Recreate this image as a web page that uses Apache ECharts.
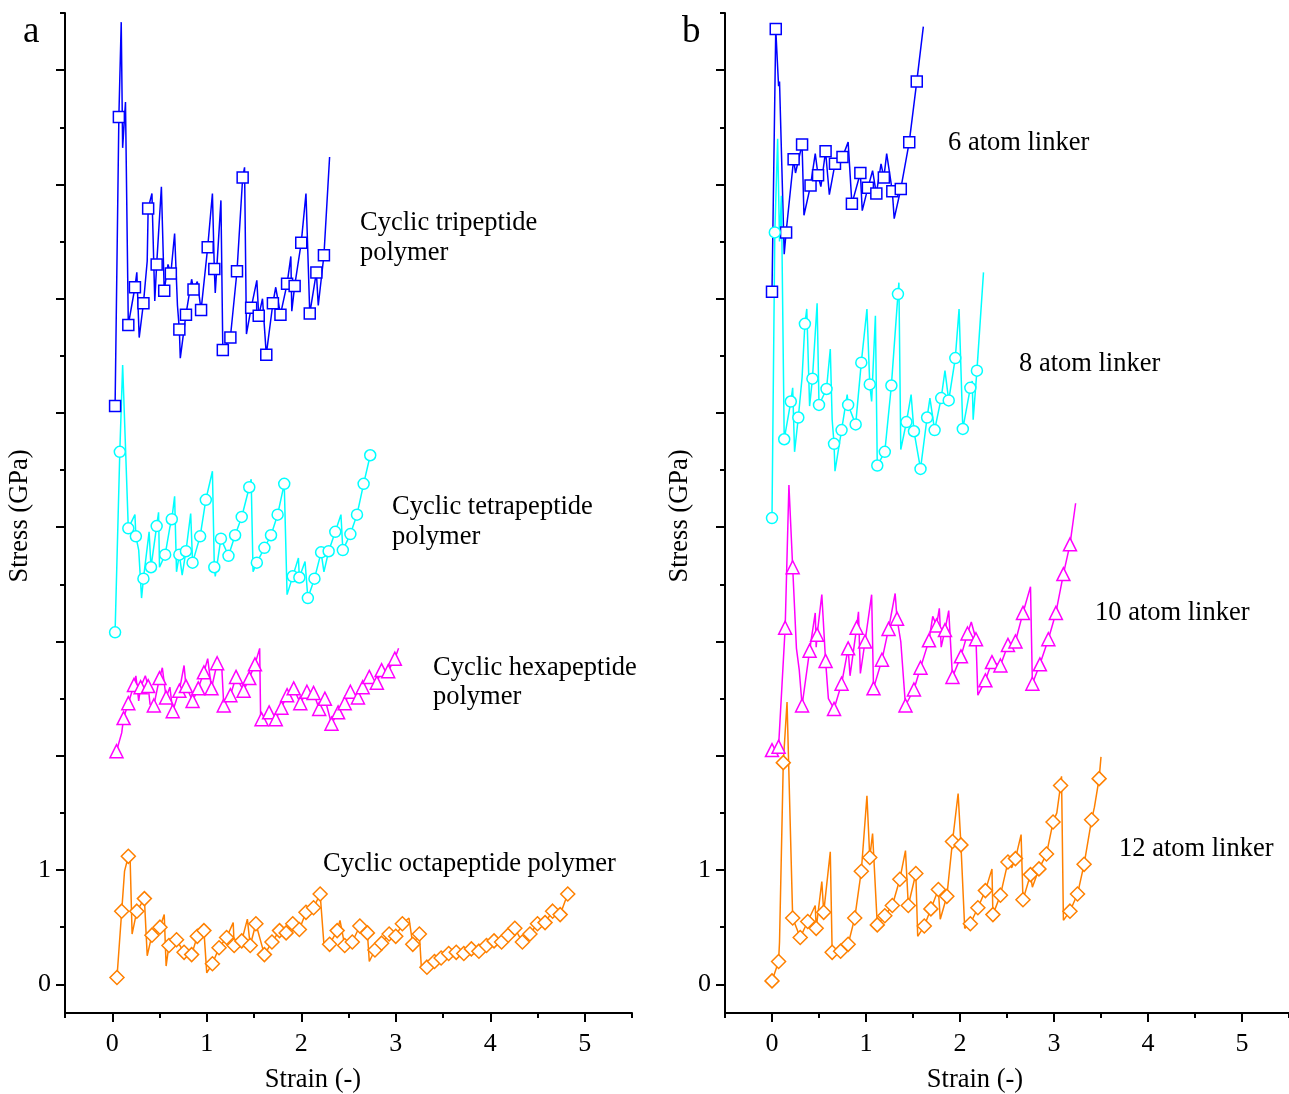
<!DOCTYPE html>
<html>
<head>
<meta charset="utf-8">
<script src="https://cdn.jsdelivr.net/npm/echarts@6/dist/echarts.min.js"></script>
<style>
  html, body { margin: 0; background: #fff; }
  #chart { width: 1289px; height: 1094px; }
</style>
</head>
<body>
<div id="chart"></div>
<script>
// each point: [strain, stress (offset), 1 = draw marker]
const triPoly = [[0.03,5.06,1],[0.07,7.59,1],[0.095,8.42,0],[0.11,7.32,0],[0.14,7.72,0],[0.17,5.77,1],[0.24,6.10,1],[0.26,6.23,0],[0.285,5.66,0],[0.33,5.96,1],[0.37,6.33,0],[0.38,6.79,1],[0.42,6.92,0],[0.45,5.98,0],[0.47,6.30,1],[0.52,6.98,0],[0.55,6.07,1],[0.59,6.30,0],[0.62,6.22,1],[0.66,6.57,0],[0.69,5.94,0],[0.71,5.73,1],[0.72,5.48,0],[0.78,5.86,1],[0.84,6.17,0],[0.86,6.08,1],[0.90,6.15,0],[0.94,5.90,1],[1.01,6.45,1],[1.06,6.92,0],[1.08,6.26,1],[1.09,6.05,0],[1.15,6.86,0],[1.17,5.55,1],[1.25,5.66,1],[1.32,6.24,1],[1.38,7.06,1],[1.40,7.15,0],[1.42,5.69,0],[1.47,5.92,1],[1.53,6.16,0],[1.55,5.85,1],[1.59,6.00,0],[1.63,5.51,1],[1.70,5.96,1],[1.73,6.10,0],[1.78,5.86,1],[1.85,6.13,1],[1.89,6.37,0],[1.90,5.89,0],[1.93,6.11,1],[2.00,6.49,1],[2.05,6.92,0],[2.09,5.87,1],[2.16,6.23,1],[2.18,5.94,0],[2.24,6.38,1],[2.30,7.24,0]]
const tetraPoly = [[0.03,3.08,1],[0.08,4.66,1],[0.11,5.42,0],[0.17,3.99,1],[0.24,4.11,0],[0.25,3.92,1],[0.28,3.80,0],[0.31,3.38,0],[0.33,3.55,1],[0.39,3.96,0],[0.41,3.65,1],[0.47,4.01,1],[0.49,4.13,0],[0.50,3.65,0],[0.56,3.76,1],[0.61,4.00,0],[0.63,4.07,1],[0.66,4.27,0],[0.68,3.61,0],[0.71,3.76,1],[0.74,3.58,0],[0.78,3.79,1],[0.83,4.12,0],[0.85,3.69,1],[0.93,3.92,1],[0.99,4.24,1],[1.06,4.49,0],[1.08,3.65,1],[1.09,3.57,0],[1.15,3.90,1],[1.23,3.75,1],[1.30,3.93,1],[1.37,4.09,1],[1.45,4.35,1],[1.47,4.42,0],[1.49,3.61,0],[1.53,3.69,1],[1.61,3.82,1],[1.68,3.93,1],[1.75,4.11,1],[1.82,4.38,1],[1.85,3.41,0],[1.91,3.57,1],[1.97,3.73,0],[1.98,3.56,1],[2.04,3.70,0],[2.07,3.38,1],[2.14,3.55,1],[2.21,3.78,1],[2.24,3.61,0],[2.29,3.79,1],[2.36,3.96,1],[2.42,4.11,0],[2.44,3.80,1],[2.52,3.94,1],[2.59,4.11,1],[2.66,4.38,1],[2.73,4.63,1]]
const hexaPoly = [[0.045,2.04,1],[0.10,2.20,0],[0.12,2.33,1],[0.17,2.46,1],[0.23,2.62,1],[0.25,2.70,0],[0.28,2.48,0],[0.30,2.60,1],[0.35,2.70,0],[0.38,2.61,1],[0.40,2.45,0],[0.44,2.44,1],[0.50,2.68,1],[0.53,2.77,0],[0.57,2.51,1],[0.61,2.60,0],[0.64,2.39,1],[0.71,2.57,1],[0.76,2.79,0],[0.78,2.61,1],[0.85,2.48,1],[0.91,2.59,1],[0.97,2.73,1],[1.01,2.85,0],[1.05,2.59,1],[1.11,2.81,1],[1.16,2.76,0],[1.18,2.44,1],[1.25,2.53,1],[1.31,2.69,1],[1.39,2.57,1],[1.45,2.68,1],[1.51,2.80,1],[1.56,2.94,0],[1.57,2.34,0],[1.58,2.32,1],[1.66,2.38,1],[1.73,2.32,1],[1.79,2.42,1],[1.85,2.53,1],[1.92,2.59,1],[1.99,2.46,1],[2.06,2.56,1],[2.13,2.55,1],[2.19,2.41,1],[2.25,2.50,1],[2.32,2.28,1],[2.39,2.38,1],[2.46,2.46,1],[2.52,2.56,1],[2.60,2.51,1],[2.65,2.60,1],[2.72,2.69,1],[2.80,2.64,1],[2.85,2.75,1],[2.92,2.74,1],[2.99,2.85,1],[3.03,2.94,0]]
const octaPoly = [[0.05,0.06,1],[0.10,0.64,1],[0.13,0.99,0],[0.17,1.12,1],[0.19,1.07,0],[0.21,0.44,0],[0.26,0.64,1],[0.34,0.75,1],[0.37,0.25,0],[0.42,0.43,1],[0.505,0.50,1],[0.55,0.61,0],[0.57,0.16,0],[0.60,0.34,1],[0.68,0.39,1],[0.76,0.28,1],[0.84,0.26,1],[0.90,0.42,1],[0.97,0.47,1],[1.00,0.10,0],[1.06,0.18,1],[1.13,0.32,1],[1.21,0.41,1],[1.28,0.54,0],[1.29,0.34,1],[1.37,0.38,1],[1.43,0.57,0],[1.46,0.34,1],[1.52,0.53,1],[1.61,0.26,1],[1.69,0.37,1],[1.77,0.47,1],[1.84,0.45,1],[1.91,0.53,1],[1.98,0.48,1],[2.05,0.63,1],[2.13,0.67,1],[2.20,0.79,1],[2.24,0.35,0],[2.30,0.35,1],[2.38,0.47,1],[2.41,0.56,0],[2.46,0.34,1],[2.54,0.37,1],[2.62,0.51,1],[2.70,0.45,1],[2.72,0.20,0],[2.78,0.30,1],[2.85,0.36,1],[2.93,0.44,1],[3.00,0.42,1],[3.07,0.53,1],[3.14,0.58,0],[3.18,0.35,1],[3.25,0.44,1],[3.27,0.16,0],[3.33,0.15,1],[3.41,0.20,1],[3.48,0.23,1],[3.56,0.27,1],[3.64,0.28,1],[3.72,0.27,1],[3.80,0.31,1],[3.88,0.29,1],[3.96,0.34,1],[4.04,0.38,1],[4.12,0.37,1],[4.19,0.43,1],[4.26,0.49,1],[4.34,0.37,1],[4.42,0.44,1],[4.50,0.53,1],[4.58,0.54,1],[4.66,0.64,1],[4.74,0.61,1],[4.82,0.79,1]]

const linker6 = [[0.00,6.06,1],[0.04,8.36,1],[0.07,7.86,0],[0.08,7.90,0],[0.13,6.39,0],[0.15,6.58,1],[0.23,7.22,1],[0.25,7.10,0],[0.32,7.35,1],[0.34,6.73,0],[0.41,6.99,1],[0.46,7.27,0],[0.49,7.08,1],[0.52,6.98,0],[0.57,7.29,1],[0.61,6.91,0],[0.67,7.18,1],[0.71,7.15,0],[0.75,7.24,1],[0.81,7.37,0],[0.85,6.83,1],[0.94,7.10,1],[0.96,6.77,0],[1.02,6.97,1],[1.07,7.12,0],[1.11,6.92,1],[1.16,7.18,0],[1.19,7.06,1],[1.22,7.27,0],[1.28,6.94,1],[1.30,6.70,0],[1.37,6.96,1],[1.46,7.37,1],[1.54,7.90,1],[1.61,8.38,0]]
const linker8 = [[0.00,4.08,1],[0.03,6.58,1],[0.06,7.40,0],[0.08,6.50,0],[0.10,6.90,0],[0.13,4.77,1],[0.20,5.10,1],[0.22,5.22,0],[0.24,4.66,0],[0.28,4.96,1],[0.32,5.31,0],[0.35,5.78,1],[0.37,5.91,0],[0.40,5.06,0],[0.43,5.30,1],[0.48,5.96,0],[0.50,5.07,1],[0.58,5.21,1],[0.62,5.56,0],[0.64,4.94,0],[0.66,4.73,1],[0.67,4.49,0],[0.74,4.85,1],[0.80,5.16,0],[0.81,5.07,1],[0.89,4.90,1],[0.95,5.44,1],[1.01,5.91,0],[1.04,5.25,1],[1.06,5.10,0],[1.10,5.85,0],[1.12,4.54,1],[1.20,4.66,1],[1.27,5.24,1],[1.34,6.04,1],[1.35,6.14,0],[1.37,4.68,0],[1.43,4.92,1],[1.48,5.16,0],[1.51,4.84,1],[1.58,4.51,1],[1.65,4.96,1],[1.68,5.13,0],[1.73,4.85,1],[1.80,5.13,1],[1.84,5.37,0],[1.88,5.11,1],[1.95,5.48,1],[1.99,5.91,0],[2.03,4.86,1],[2.11,5.22,1],[2.13,5.28,0],[2.14,4.94,0],[2.18,5.37,1],[2.25,6.23,0]]
const linker10 = [[0.00,2.05,1],[0.07,2.08,1],[0.14,3.12,1],[0.18,4.37,0],[0.22,3.65,1],[0.26,2.94,0],[0.29,2.75,0],[0.32,2.44,1],[0.40,2.92,1],[0.46,3.25,0],[0.47,2.95,0],[0.48,3.06,1],[0.53,3.41,0],[0.57,2.83,1],[0.60,2.50,0],[0.66,2.41,1],[0.74,2.63,1],[0.81,2.94,1],[0.83,2.70,0],[0.90,3.12,1],[0.92,3.26,0],[0.94,2.72,0],[0.99,3.00,1],[1.06,3.41,0],[1.08,2.59,1],[1.17,2.84,1],[1.24,3.11,1],[1.31,3.42,0],[1.33,3.20,1],[1.37,3.00,0],[1.42,2.44,1],[1.51,2.58,1],[1.58,2.77,1],[1.67,3.01,1],[1.71,3.22,0],[1.75,3.14,1],[1.78,3.29,0],[1.80,2.95,0],[1.84,3.10,1],[1.88,3.27,0],[1.92,2.69,1],[2.01,2.87,1],[2.08,3.07,1],[2.12,3.17,0],[2.17,3.02,1],[2.19,2.53,0],[2.27,2.66,1],[2.34,2.82,1],[2.43,2.79,1],[2.51,2.97,1],[2.59,3.00,1],[2.67,3.25,1],[2.75,3.48,0],[2.77,2.63,1],[2.85,2.80,1],[2.94,3.02,1],[3.02,3.25,1],[3.10,3.59,1],[3.17,3.85,1],[3.23,4.21,0]]
const linker12 = [[0.00,0.03,1],[0.07,0.20,1],[0.08,0.37,0],[0.12,1.94,1],[0.16,2.47,0],[0.22,0.58,1],[0.30,0.41,1],[0.38,0.55,1],[0.46,0.69,0],[0.47,0.49,1],[0.53,0.90,0],[0.55,0.63,1],[0.62,1.16,0],[0.64,0.28,1],[0.73,0.29,1],[0.81,0.35,1],[0.88,0.58,1],[0.95,0.99,1],[1.01,1.65,0],[1.04,1.11,1],[1.07,1.32,0],[1.12,0.52,1],[1.20,0.60,1],[1.28,0.69,1],[1.36,0.92,1],[1.42,1.17,0],[1.45,0.69,1],[1.53,0.97,1],[1.55,0.42,0],[1.62,0.51,1],[1.69,0.66,1],[1.77,0.83,1],[1.79,0.57,0],[1.86,0.77,1],[1.92,1.25,1],[1.98,1.67,0],[2.01,1.22,1],[2.05,0.49,0],[2.11,0.53,1],[2.19,0.67,1],[2.27,0.82,1],[2.34,1.01,0],[2.35,0.61,1],[2.43,0.78,1],[2.51,1.07,1],[2.55,1.02,0],[2.59,1.10,1],[2.65,1.31,0],[2.67,0.74,1],[2.75,0.96,1],[2.77,0.85,0],[2.84,1.01,1],[2.92,1.14,1],[2.99,1.42,1],[3.03,1.50,0],[3.07,1.74,1],[3.08,1.82,0],[3.10,0.56,0],[3.17,0.64,1],[3.25,0.79,1],[3.32,1.05,1],[3.40,1.44,1],[3.43,1.55,0],[3.48,1.80,1],[3.50,1.99,0]]

const xMajor = [0, 1, 2, 3, 4, 5]
const xMinor = [-0.5, 0.5, 1.5, 2.5, 3.5, 4.5, 5.5]
const yMajor = [0, 1, 2, 3, 4, 5, 6, 7, 8]
const yMinor = [0.5, 1.5, 2.5, 3.5, 4.5, 5.5, 6.5, 7.5, 8.5]
const yLabels = [0, 1]

const FONT = '"Liberation Serif", "DejaVu Serif", serif'
const axisColor = '#000'

function xAxes(gridIndex) {
    return [
        {
            type: 'value', gridIndex, min: -0.5, max: 5.5, position: 'bottom',
            axisLine: {onZero: false, lineStyle: {color: axisColor, width: 2}},
            axisTick: {customValues: xMajor, length: 9, lineStyle: {color: axisColor, width: 2}},
            axisLabel: {customValues: xMajor, margin: 18, fontFamily: FONT, fontSize: 26, color: '#000'},
            splitLine: {show: false}
        },
        {
            type: 'value', gridIndex, min: -0.5, max: 5.5, position: 'bottom',
            axisLine: {show: false, onZero: false},
            axisTick: {customValues: xMinor, length: 5, lineStyle: {color: axisColor, width: 2}},
            axisLabel: {show: false},
            splitLine: {show: false}
        }
    ]
}

function yAxes(gridIndex) {
    return [
        {
            type: 'value', gridIndex, min: -0.251, max: 8.5, position: 'left',
            axisLine: {show: true, onZero: false, lineStyle: {color: axisColor, width: 2}},
            axisTick: {customValues: yMajor, length: 9, lineStyle: {color: axisColor, width: 2}},
            axisLabel: {customValues: yLabels, margin: 14, fontFamily: FONT, fontSize: 26, color: '#000'},
            splitLine: {show: false}
        },
        {
            type: 'value', gridIndex, min: -0.251, max: 8.5, position: 'left',
            axisLine: {show: false, onZero: false},
            axisTick: {customValues: yMinor, length: 5, lineStyle: {color: axisColor, width: 2}},
            axisLabel: {show: false},
            splitLine: {show: false}
        }
    ]
}

function curve(name, pts, color, symbol, size, panel) {
    return {
        type: 'line', name,
        xAxisIndex: panel * 2, yAxisIndex: panel * 2,
        data: pts.map(p => ({value: [p[0], p[1]], symbol: p[2] ? symbol : 'none'})),
        symbol, symbolSize: size, showAllSymbol: true,
        lineStyle: {color, width: 1.5},
        itemStyle: {color: '#fff', borderColor: color, borderWidth: 1.5},
        emphasis: {disabled: true},
        animation: false
    }
}

function txt(x, y, s, opts) {
    return {type: 'text', x, y, style: Object.assign({text: s, fontFamily: FONT, fontSize: 26.5, fill: '#000', verticalAlign: 'middle'}, opts || {})}
}

const chart = echarts.init(document.getElementById('chart'))
chart.setOption({
    backgroundColor: '#fff',
    animation: false,
    grid: [
        {left: 65, top: 13, width: 567, height: 1000},
        {left: 725, top: 13, width: 567, height: 1000}
    ],
    xAxis: [...xAxes(0), ...xAxes(1)],
    yAxis: [...yAxes(0), ...yAxes(1)],
    series: [
        curve('Cyclic tripeptide polymer', triPoly, '#0000ff', 'rect', 11, 0),
        curve('Cyclic tetrapeptide polymer', tetraPoly, '#00ffff', 'circle', 11, 0),
        curve('Cyclic hexapeptide polymer', hexaPoly, '#ff00ff', 'triangle', 13, 0),
        curve('Cyclic octapeptide polymer', octaPoly, '#ff8000', 'diamond', 14, 0),
        curve('6 atom linker', linker6, '#0000ff', 'rect', 11, 1),
        curve('8 atom linker', linker8, '#00ffff', 'circle', 11, 1),
        curve('10 atom linker', linker10, '#ff00ff', 'triangle', 13, 1),
        curve('12 atom linker', linker12, '#ff8000', 'diamond', 14, 1)
    ],
    graphic: [
        txt(23, 32, 'a', {fontSize: 37}),
        txt(682, 32, 'b', {fontSize: 37}),
        txt(20, 516, 'Stress (GPa)', {align: 'center'}),
        txt(680, 516, 'Stress (GPa)', {align: 'center'}),
        txt(313, 1080, 'Strain (-)', {align: 'center'}),
        txt(975, 1080, 'Strain (-)', {align: 'center'}),
        txt(360, 223, 'Cyclic tripeptide'),
        txt(360, 253, 'polymer'),
        txt(392, 507, 'Cyclic tetrapeptide'),
        txt(392, 537, 'polymer'),
        txt(433, 668, 'Cyclic hexapeptide'),
        txt(433, 697, 'polymer'),
        txt(323, 864, 'Cyclic octapeptide polymer'),
        txt(948, 143, '6 atom linker'),
        txt(1019, 364, '8 atom linker'),
        txt(1095, 613, '10 atom linker'),
        txt(1119, 849, '12 atom linker')
    ].map((g, i) => (i === 2 || i === 3) ? Object.assign(g, {rotation: Math.PI / 2}) : g)
})
</script>
</body>
</html>
